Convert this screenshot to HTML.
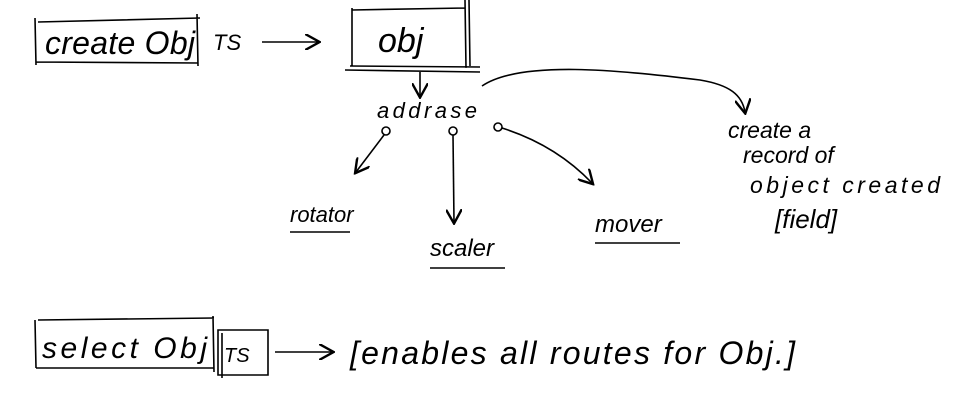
<!DOCTYPE html>
<html><head><meta charset="utf-8"><style>
html,body{margin:0;padding:0;background:#fff;width:980px;height:401px;overflow:hidden}
text{font-family:"Liberation Sans",sans-serif;font-style:italic;fill:#000}
</style></head><body>
<svg width="980" height="401" viewBox="0 0 980 401" xmlns="http://www.w3.org/2000/svg">
<defs><marker id="a" markerWidth="10" markerHeight="10" refX="8" refY="5" orient="auto"><path d="M0,0 L9,5 L0,10" fill="none" stroke="#000" stroke-width="1.5"/></marker></defs>
<g stroke="#000" fill="none" stroke-width="1.6">
<path d="M35,18 L36,65 M38,22 L200,18 M197,14 L198,66 M36,62 L198,63"/>
<path d="M262,42 L318,42" marker-end="url(#a)"/>
<path d="M352,8 L352,66 M352,10 L465,8 M465,0 L466,68 M469,0 L470,66 M350,66 L480,67 M345,70 L480,72" />
<path d="M420,72 L420,96" marker-end="url(#a)"/>
<circle cx="386" cy="131" r="4"/><circle cx="453" cy="131" r="4"/><circle cx="498" cy="127" r="4"/>
<path d="M384,135 L356,172" marker-end="url(#a)"/>
<path d="M453,135 L454,222" marker-end="url(#a)"/>
<path d="M502,128 C540,140 570,160 592,183" marker-end="url(#a)"/>
<path d="M482,86 C520,60 620,70 700,80 C730,85 742,95 745,112" marker-end="url(#a)"/>
<path d="M290,232 L350,232 M430,268 L505,268 M595,243 L680,243"/>
<path d="M35,320 L36,368 M38,320 L214,318 M213,316 L214,372 M36,368 L214,368"/>
<path d="M218,330 L268,330 L268,375 L218,375 Z M222,333 L222,378"/>
<path d="M275,352 L332,352" marker-end="url(#a)"/>
</g>
<text x="45" y="54" font-size="32" textLength="150">create Obj</text>
<text x="213" y="50" font-size="22">TS</text>
<text x="378" y="52" font-size="34">obj</text>
<text x="377" y="118" font-size="22" textLength="100">addrase</text>
<text x="290" y="222" font-size="22">rotator</text>
<text x="430" y="256" font-size="24">scaler</text>
<text x="595" y="232" font-size="24">mover</text>
<text x="728" y="138" font-size="23">create a</text>
<text x="743" y="163" font-size="23">record of</text>
<text x="750" y="193" font-size="23" textLength="190">object created</text>
<text x="775" y="228" font-size="26">[field]</text>
<text x="42" y="358" font-size="30" textLength="165">select Obj</text>
<text x="224" y="362" font-size="20">TS</text>
<text x="350" y="364" font-size="32" textLength="445">[enables all routes for Obj.]</text>
</svg>
</body></html>
